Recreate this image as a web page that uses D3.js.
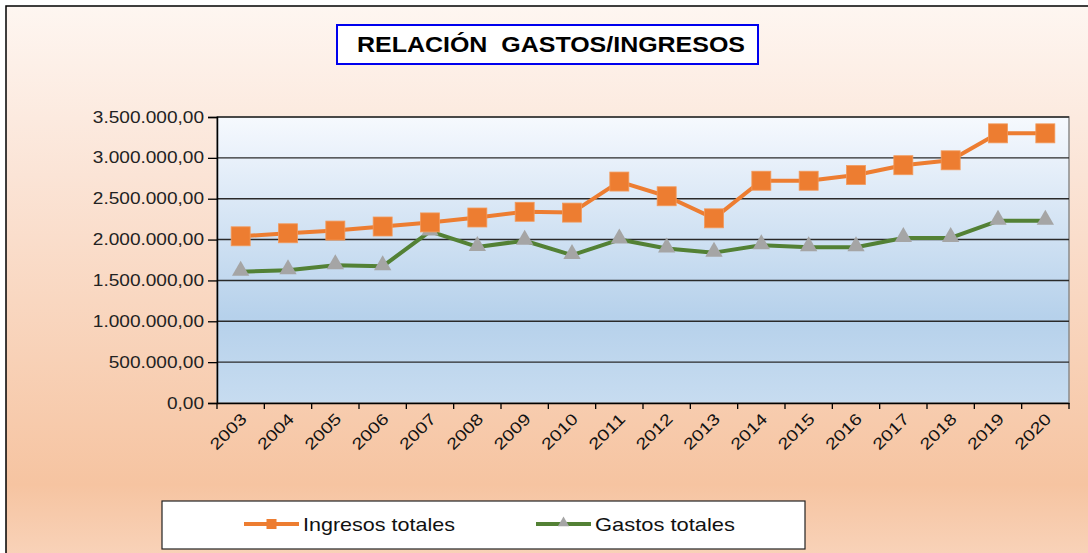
<!DOCTYPE html>
<html>
<head>
<meta charset="utf-8">
<script src="https://cdn.jsdelivr.net/npm/d3@7"></script>
<style>
  body { margin: 0; background: #fff; }
  svg { display: block; font-family: Arial, "Liberation Sans", sans-serif; }
</style>
</head>
<body>
<div id="chart"></div>
<script>
const years = ["2003","2004","2005","2006","2007","2008","2009","2010","2011","2012","2013","2014","2015","2016","2017","2018","2019","2020"];
const ingresos = [2040000,2077000,2110000,2160000,2210000,2270000,2340000,2330000,2710000,2530000,2260000,2720000,2720000,2790000,2910000,2970000,3300000,3300000];
const gastos = [1607000,1624000,1685000,1673000,2100000,1910000,1986000,1810000,2000000,1890000,1840000,1930000,1905000,1905000,2020000,2020000,2230000,2230000];
const yTicks = [0,500000,1000000,1500000,2000000,2500000,3000000,3500000];
const seriesNames = ["Ingresos totales","Gastos totales"];

const width = 1088, height = 553;
const plot = { left: 217, right: 1069, top: 117, bottom: 403 };

const svg = d3.select("#chart").append("svg")
    .attr("width", width)
    .attr("height", height);

// stretch text horizontally (reference uses a wide rendering)
function stretch(sel, factor) {
  sel.each(function() {
    const len = this.getComputedTextLength();
    d3.select(this).attr("textLength", len * factor).attr("lengthAdjust", "spacingAndGlyphs");
  });
}

const defs = svg.append("defs");
const outerGrad = defs.append("linearGradient").attr("id", "outerGrad")
    .attr("x1", 0).attr("y1", 0).attr("x2", 0).attr("y2", 1);
outerGrad.append("stop").attr("offset", "0%").attr("stop-color", "#fef6f1");
outerGrad.append("stop").attr("offset", "30%").attr("stop-color", "#fbe4d6");
outerGrad.append("stop").attr("offset", "85%").attr("stop-color", "#f6c4a1");
outerGrad.append("stop").attr("offset", "100%").attr("stop-color", "#f9d5bd");

const plotGrad = defs.append("linearGradient").attr("id", "plotGrad")
    .attr("x1", 0).attr("y1", 0).attr("x2", 0).attr("y2", 1);
plotGrad.append("stop").attr("offset", "0%").attr("stop-color", "#f6f9fe");
plotGrad.append("stop").attr("offset", "70%").attr("stop-color", "#b6d1eb");
plotGrad.append("stop").attr("offset", "100%").attr("stop-color", "#c7dcf0");

// chart area background
svg.append("rect")
    .attr("x", 6).attr("y", 6)
    .attr("width", width + 10).attr("height", height + 10)
    .attr("fill", "url(#outerGrad)")
    .attr("stroke", "#000")
    .attr("stroke-width", 1.5);

// title
svg.append("rect")
    .attr("x", 337).attr("y", 25).attr("width", 421).attr("height", 39)
    .attr("fill", "#fff").attr("stroke", "#0000ee").attr("stroke-width", 2);
svg.append("text")
    .attr("x", 357).attr("y", 52)
    .attr("font-size", 22)
    .attr("font-weight", "bold")
    .attr("textLength", 388)
    .attr("lengthAdjust", "spacingAndGlyphs")
    .attr("fill", "#000")
    .attr("xml:space", "preserve")
    .style("white-space", "pre")
    .text("RELACIÓN  GASTOS/INGRESOS");

const x = d3.scaleBand().domain(years).range([plot.left, plot.right]);
const y = d3.scaleLinear().domain([0, 3500000]).range([plot.bottom, plot.top]);

// plot area
svg.append("rect")
    .attr("x", plot.left).attr("y", plot.top)
    .attr("width", plot.right - plot.left).attr("height", plot.bottom - plot.top)
    .attr("fill", "url(#plotGrad)")
    .attr("stroke", "#8a8a8a").attr("stroke-width", 1.5);

const fmt = v => {
  const s = d3.format(",.2f")(v);
  return s.replace(/,/g, "#").replace(".", ",").replace(/#/g, ".");
};

// gridlines
svg.append("g").selectAll("line")
    .data(yTicks.filter(d => d > 0))
    .join("line")
    .attr("x1", plot.left).attr("x2", plot.right)
    .attr("y1", d => y(d)).attr("y2", d => y(d))
    .attr("stroke", "#2a2a2a").attr("stroke-width", 1.4);

// y axis
const yAxis = svg.append("g")
    .attr("transform", `translate(${plot.left},0)`)
    .call(d3.axisLeft(y).tickValues(yTicks).tickFormat(fmt).tickSize(9).tickPadding(4));
yAxis.select(".domain").attr("stroke", "#000").attr("stroke-width", 1.5);
yAxis.selectAll(".tick line").attr("stroke", "#000").attr("stroke-width", 1.3);
yAxis.selectAll("text").attr("font-size", 16).attr("fill", "#222")
    .attr("font-family", "Arial, 'Liberation Sans', sans-serif")
    .call(stretch, 1.19);

// x axis
const xAxis = svg.append("g")
    .attr("transform", `translate(0,${plot.bottom})`)
    .call(d3.axisBottom(x).tickSize(0).tickFormat(""));
xAxis.select(".domain").attr("stroke", "#000").attr("stroke-width", 1.5);
svg.append("g").selectAll("line")
    .data(years.concat(["end"]))
    .join("line")
    .attr("x1", (d, i) => plot.left + i * x.step())
    .attr("x2", (d, i) => plot.left + i * x.step())
    .attr("y1", plot.bottom).attr("y2", plot.bottom + 6)
    .attr("stroke", "#000").attr("stroke-width", 1.3);
svg.append("g").selectAll("text")
    .data(years)
    .join("text")
    .attr("transform", d => `translate(${x(d) + x.bandwidth() / 2 + 7},${plot.bottom + 17}) rotate(-45)`)
    .attr("text-anchor", "end")
    .attr("font-size", 16)
    .attr("fill", "#111")
    .attr("textLength", 44)
    .attr("lengthAdjust", "spacingAndGlyphs")
    .text(d => d);

const cx = d => x(d) + x.bandwidth() / 2;
const line = d3.line().x((d, i) => cx(years[i])).y(d => y(d));

// gastos line
svg.append("path").datum(gastos)
    .attr("d", line).attr("fill", "none")
    .attr("stroke", "#538135").attr("stroke-width", 4).attr("stroke-linejoin", "round");
svg.append("g").selectAll("path")
    .data(gastos)
    .join("path")
    .attr("d", d3.symbol(d3.symbolTriangle, 130))
    .attr("transform", (d, i) => `translate(${cx(years[i])},${y(d) - 1})`)
    .attr("fill", "#a5a5a5");

// ingresos line
svg.append("path").datum(ingresos)
    .attr("d", line).attr("fill", "none")
    .attr("stroke", "#ed7d31").attr("stroke-width", 4).attr("stroke-linejoin", "round");
svg.append("g").selectAll("rect")
    .data(ingresos)
    .join("rect")
    .attr("x", (d, i) => cx(years[i]) - 9.5)
    .attr("y", d => y(d) - 9.5)
    .attr("width", 19).attr("height", 19)
    .attr("fill", "#ed7d31")
    .attr("stroke", "#f29a5c").attr("stroke-width", 0.8);

// legend
const legend = svg.append("g");
legend.append("rect")
    .attr("x", 162).attr("y", 501).attr("width", 643).attr("height", 48)
    .attr("fill", "#fff").attr("stroke", "#222").attr("stroke-width", 1.2);

const legItems = [
  { name: seriesNames[0], x0: 244, len: 152, color: "#ed7d31", marker: "square" },
  { name: seriesNames[1], x0: 536, len: 140, color: "#538135", marker: "triangle" }
];
legItems.forEach(it => {
  const ly = 524;
  legend.append("line")
      .attr("x1", it.x0).attr("x2", it.x0 + 55)
      .attr("y1", ly).attr("y2", ly)
      .attr("stroke", it.color).attr("stroke-width", 4);
  if (it.marker === "square") {
    legend.append("rect")
        .attr("x", it.x0 + 27.5 - 5).attr("y", ly - 5)
        .attr("width", 10).attr("height", 10)
        .attr("fill", "#ed7d31");
  } else {
    legend.append("path")
        .attr("d", d3.symbol(d3.symbolTriangle, 55))
        .attr("transform", `translate(${it.x0 + 27.5},${ly - 1})`)
        .attr("fill", "#a5a5a5");
  }
  legend.append("text")
      .attr("x", it.x0 + 59).attr("y", ly + 7)
      .attr("font-size", 19)
      .attr("fill", "#111")
      .attr("textLength", it.len)
      .attr("lengthAdjust", "spacingAndGlyphs")
      .text(it.name);
});
</script>
</body>
</html>
